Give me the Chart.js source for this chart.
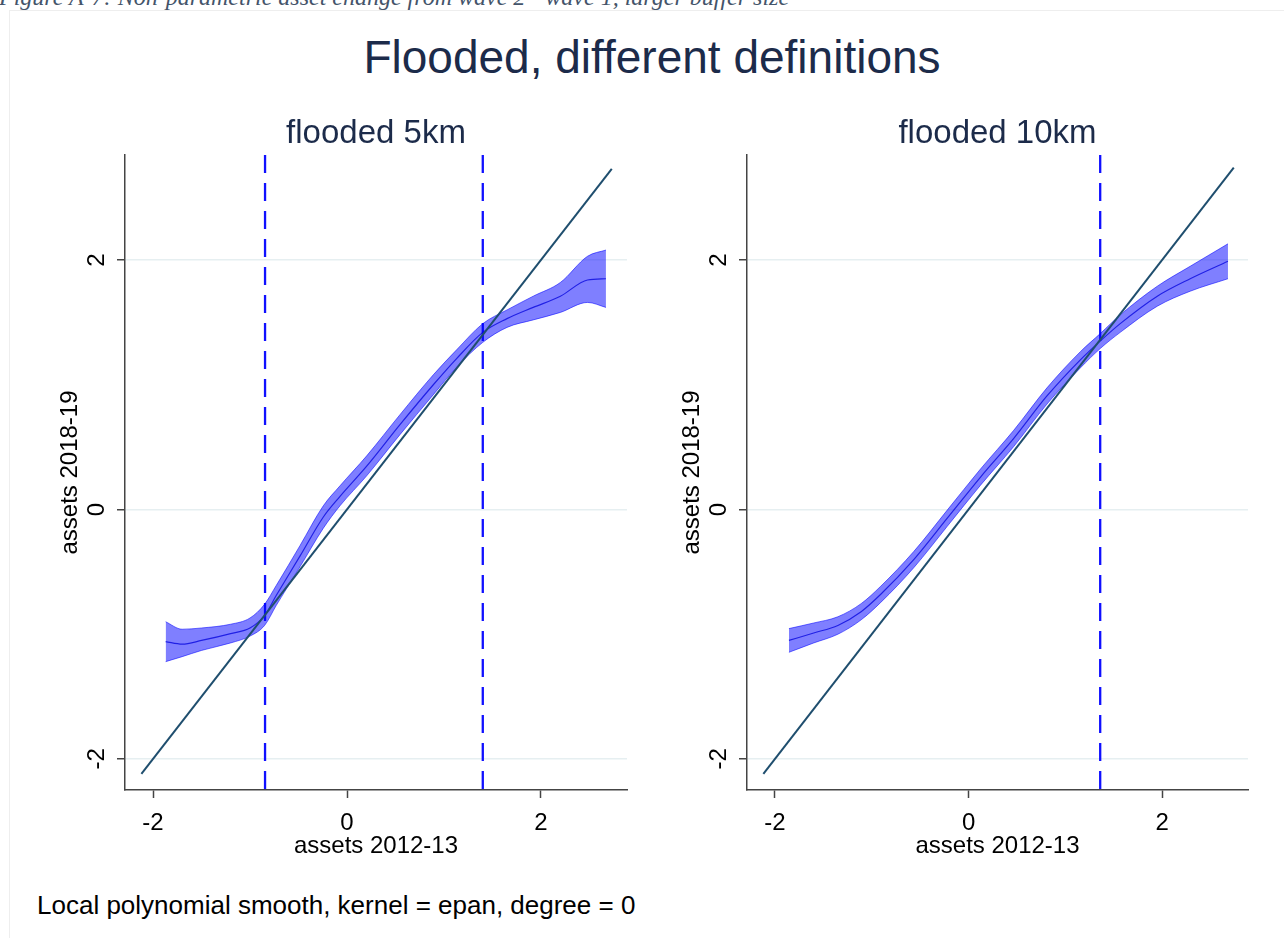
<!DOCTYPE html>
<html><head><meta charset="utf-8">
<script src="https://cdn.jsdelivr.net/npm/chart.js@4/dist/chart.umd.min.js"></script>
<style>
html,body{margin:0;padding:0;background:#fff;width:1284px;height:938px;overflow:hidden;position:relative;font-family:"Liberation Sans",Arial,sans-serif}
#caption{position:absolute;left:-1px;top:-15px;font:italic 24px/24px "Liberation Serif",serif;color:#44546a;white-space:nowrap}
#frame{position:absolute;left:9px;top:10px;width:1290px;height:940px;border-left:1px solid #eeeeee;border-top:1px solid #eeeeee}
#title{position:absolute;left:20px;width:1264px;top:34px;text-align:center;font:46px/46px "Liberation Sans",Arial,sans-serif;color:#1c2b4a;white-space:nowrap}
#note{position:absolute;left:37px;top:892px;font:26px/26px "Liberation Sans",Arial,sans-serif;color:#000;white-space:nowrap}
canvas{position:absolute;top:100px}
#c1{left:0}
#c2{left:622px}
</style></head>
<body>
<div id="frame"></div>
<div id="caption">Figure A-7: Non-parametric asset change from wave 2 - wave 1, larger buffer size</div>
<div id="title">Flooded, different definitions</div>
<canvas id="c1" width="640" height="770"></canvas>
<canvas id="c2" width="662" height="770"></canvas>
<div id="note">Local polynomial smooth, kernel = epan, degree = 0</div>
<script>
// ---------- data ----------
const xTicks = [-2, 0, 2];
const yTicks = [-2, 0, 2];
const X_MIN = -2.289, X_MAX = 2.887;
const Y_MIN = -2.249, Y_MAX = 2.842;

// flooded 5km
const x5     = [-1.87, -1.70, -1.50, -1.20, -1.00, -0.85, -0.73, -0.485, -0.244, -0.072, 0.203, 0.546, 0.89, 1.13, 1.40, 1.65, 1.92, 2.20, 2.48, 2.67];
const mid5   = [-1.06, -1.08, -1.05, -0.995, -0.95, -0.85, -0.69, -0.374, -0.06, 0.105, 0.347, 0.68, 1.00, 1.21, 1.42, 1.53, 1.62, 1.71, 1.84, 1.85];
const upper5 = [-0.90, -0.96, -0.95, -0.92, -0.87, -0.76, -0.61, -0.29, 0.03, 0.19, 0.43, 0.76, 1.08, 1.28, 1.49, 1.60, 1.71, 1.82, 2.03, 2.08];
const lower5 = [-1.22, -1.18, -1.13, -1.07, -1.015, -0.93, -0.77, -0.46, -0.15, 0.03, 0.27, 0.60, 0.92, 1.14, 1.34, 1.46, 1.52, 1.58, 1.66, 1.62];
const cut5   = [-0.845, 1.40];
const diag5  = [-2.12, 2.73];

// flooded 10km
const x10     = [-1.856, -1.60, -1.35, -1.11, -0.907, -0.564, -0.22, 0.124, 0.467, 0.81, 1.155, 1.36, 1.567, 1.95, 2.29, 2.68];
const mid10   = [-1.05, -0.99, -0.93, -0.82, -0.68, -0.40, -0.07, 0.26, 0.57, 0.91, 1.20, 1.35, 1.49, 1.71, 1.85, 1.99];
const upper10 = [-0.955, -0.91, -0.86, -0.755, -0.615, -0.335, -0.005, 0.325, 0.635, 0.975, 1.265, 1.41, 1.56, 1.79, 1.95, 2.13];
const lower10 = [-1.145, -1.07, -1.00, -0.885, -0.745, -0.465, -0.135, 0.195, 0.505, 0.845, 1.135, 1.29, 1.42, 1.63, 1.75, 1.85];
const cut10   = [1.36];
const diag10  = [-2.12, 2.74];

// ---------- chart ----------
const FONT = 'Liberation Sans';
const pts = (a, b) => a.map((x, i) => ({x: x, y: b[i]}));

function panel(id, xs, mid, up, lo, cuts, diag, sub, padRight) {
  const datasets = [
    {data: pts(diag, diag), borderColor: '#1f4e6e', borderWidth: 2, order: 0},
    {data: pts(xs, mid), borderColor: 'rgba(0,0,220,0.75)', borderWidth: 1.2, cubicInterpolationMode: 'monotone', order: 1},
    {data: pts(xs, up), borderColor: 'rgba(0,0,255,0.55)', borderWidth: 1, backgroundColor: 'rgba(0,0,255,0.5)', fill: '+1', cubicInterpolationMode: 'monotone', order: 2},
    {data: pts(xs, lo), borderColor: 'rgba(0,0,255,0.55)', borderWidth: 1, cubicInterpolationMode: 'monotone', order: 3}
  ];
  cuts.forEach(c => datasets.push({
    data: [{x: c, y: Y_MAX}, {x: c, y: Y_MIN}], borderColor: '#1010ff', borderWidth: 2.3, borderDash: [18, 10], order: 4
  }));
  return new Chart(document.getElementById(id), {
    type: 'scatter',
    data: {datasets: datasets},
    options: {
      responsive: false, animation: false, devicePixelRatio: 1,
      showLine: true,
      elements: {point: {radius: 0, hoverRadius: 0}, line: {fill: false}},
      layout: {padding: {left: 0, right: padRight, top: 0, bottom: 0}},
      plugins: {
        legend: {display: false}, tooltip: {enabled: false},
        title: {display: true, text: sub, fullSize: false, color: '#1c2b4a',
                font: {family: FONT, size: 33, weight: 'normal'}, padding: {top: 14.2, bottom: 1.2}}
      },
      scales: {
        x: {
          type: 'linear', min: X_MIN, max: X_MAX,
          afterBuildTicks: s => { s.ticks = xTicks.map(v => ({value: v})); },
          afterFit: s => { s.height = 80; },
          grid: {drawOnChartArea: false, tickLength: 8, tickColor: '#444', tickWidth: 1.5},
          border: {color: '#444', width: 1.5},
          ticks: {padding: 11, color: '#000', maxRotation: 0, font: {family: FONT, size: 24}, callback: v => String(v)},
          title: {display: true, text: 'assets 2012-13', color: '#000', font: {family: FONT, size: 24}, padding: {top: 0, bottom: 9}}
        },
        y: {
          type: 'linear', min: Y_MIN, max: Y_MAX,
          afterBuildTicks: s => { s.ticks = yTicks.map(v => ({value: v})); },
          afterFit: s => { s.width = 125; },
          grid: {color: '#e6eff1', lineWidth: 1.5, tickLength: 8, tickColor: '#444', tickWidth: 1.5},
          border: {color: '#444', width: 1.5},
          ticks: {padding: 9.3, minRotation: 90, maxRotation: 90, crossAlign: 'center', color: '#000',
                  font: {family: FONT, size: 24}, callback: v => String(v)},
          title: {display: true, text: 'assets 2018-19', color: '#000', font: {family: FONT, size: 24}, padding: {top: 56, bottom: 0}}
        }
      }
    }
  });
}

panel('c1', x5, mid5, upper5, lower5, cut5, diag5, 'flooded 5km', 13);
panel('c2', x10, mid10, upper10, lower10, cut10, diag10, 'flooded 10km', 36);
</script>
</body></html>
